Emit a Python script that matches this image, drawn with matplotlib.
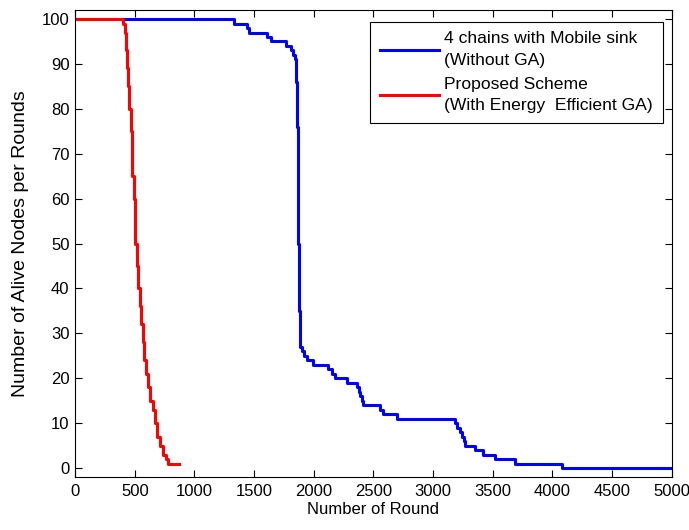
import matplotlib.pyplot as plt

plt.rcParams['font.family'] = ['Liberation Sans', 'DejaVu Sans']
plt.rcParams['font.size'] = 12

# Alive nodes vs. rounds (step changes)
mobile_rounds = [0, 1330, 1440, 1460, 1610, 1640, 1770, 1810, 1830, 1840, 1850,
                 1855, 1860, 1862, 1866, 1870, 1874, 1880, 1886, 1898, 1920, 1940,
                 1996, 2120, 2150, 2178, 2275, 2360, 2375, 2387, 2400, 2415, 2555,
                 2582, 2694, 3180, 3197, 3225, 3239, 3255, 3267, 3350, 3420, 3518,
                 3685, 4076, 5000]
mobile_alive = [100, 99, 98, 97, 96, 95, 94, 93, 92, 91, 89,
                86, 83, 76, 60, 50, 40, 35, 27, 26, 25, 24,
                23, 22, 21, 20, 19, 18, 17, 16, 15, 14, 13,
                12, 11, 10, 9, 8, 7, 6, 5, 4, 3, 2,
                1, 0, 0]

ga_rounds = [0, 390, 405, 415, 425, 435, 445, 455, 465, 475, 480, 490, 500, 505,
             515, 525, 540, 550, 565, 580, 595, 615, 630, 650, 670, 690, 710,
             735, 760, 780, 870]
ga_alive = [100, 100, 99, 97, 93, 89, 85, 80, 75, 70, 65, 60, 55, 50,
            45, 40, 36, 32, 28, 24, 21, 18, 15, 13, 10, 7, 5,
            3, 2, 1, 1]

fig = plt.figure(figsize=(6.89, 5.30), dpi=100)
ax = fig.add_axes([0.109, 0.10, 0.866, 0.881])

ax.step(mobile_rounds, mobile_alive, where='post', color='#0000ff', lw=2.2,
        label='4 chains with Mobile sink\n(Without GA)')
ax.step(ga_rounds, ga_alive, where='post', color='#ff0000', lw=2.2,
        label='Proposed Scheme\n(With Energy  Efficient GA)')

ax.set_xlim(0, 5000)
ax.set_ylim(-2, 102)
ax.set_xticks(range(0, 5001, 500))
ax.set_yticks(range(0, 101, 10))
ax.tick_params(direction='in', top=True, right=True, length=5, width=0.8,
               labelsize=12)
ax.tick_params(axis='x', pad=5)
ax.tick_params(axis='y', pad=4)
ax.set_xlabel('Number of Round', fontsize=12, labelpad=2)
ax.set_ylabel('Number of Alive Nodes per Rounds', fontsize=14)
ax.yaxis.set_label_coords(-0.078, 0.5)

leg = ax.legend(loc='upper right', bbox_to_anchor=(0.985, 0.975),
                borderaxespad=0, fontsize=12.6,
                handlelength=3.4, handletextpad=0.3, borderpad=0.55,
                labelspacing=0.5, fancybox=False, framealpha=1)
for t in leg.get_texts():
    t.set_linespacing(1.55)
leg.get_frame().set_edgecolor('black')
leg.get_frame().set_linewidth(0.8)

fig.savefig('out.png', dpi=100)
